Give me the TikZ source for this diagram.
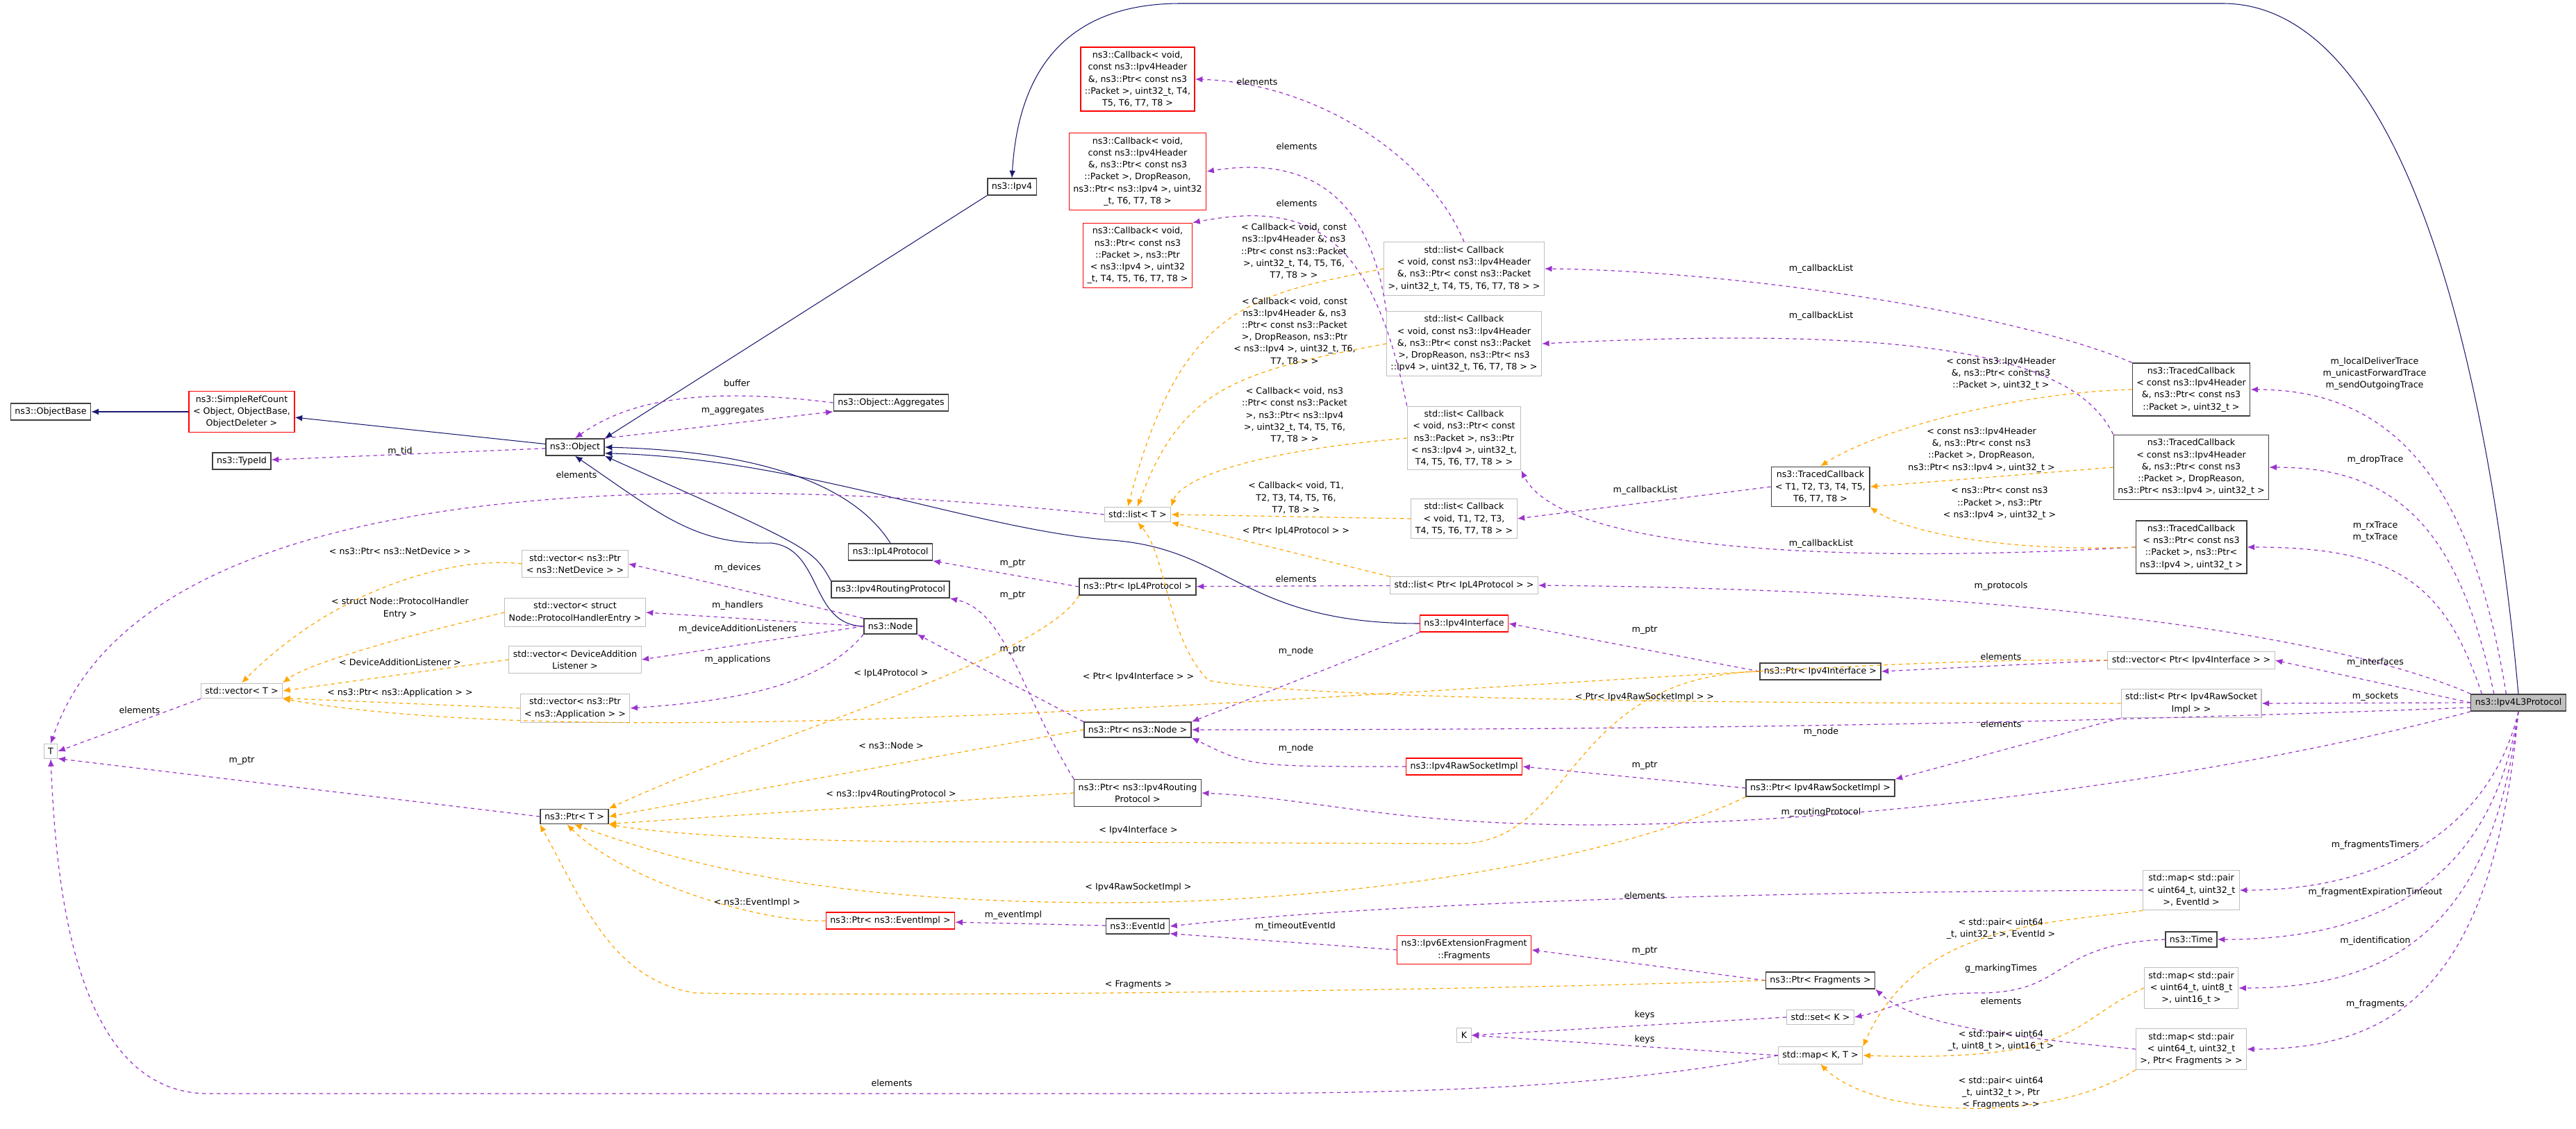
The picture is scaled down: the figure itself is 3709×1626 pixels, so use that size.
\documentclass[tikz,border=0pt]{standalone}
\usepackage{fontspec}
\setmainfont{DejaVu Sans}
\usetikzlibrary{arrows.meta}
\definecolor{inhcol}{HTML}{191970}
\definecolor{usecol}{HTML}{9A32CD}
\definecolor{tplcol}{HTML}{FFA500}
\begin{document}
\begin{tikzpicture}[x=0.02cm,y=0.02cm,
    every node/.style={font=\fontsize{7.2}{9.8}\selectfont},
    cls/.style={fill=white, align=center, inner sep=3.4pt, line width=0.8pt},
    docbox/.style={cls, draw=black!75},
    redbox/.style={cls, draw=red},
    extbox/.style={cls, draw=black!25, line width=0.6pt},
    inh/.style={draw=inhcol, line width=0.6pt, -{Latex[length=6pt,width=5pt]}},
    use/.style={draw=usecol, line width=0.7pt, dash pattern=on 3pt off 3pt, -{Latex[length=6pt,width=5pt]}},
    tpl/.style={draw=tplcol, line width=0.7pt, dash pattern=on 3pt off 3pt, -{Latex[length=6pt,width=5pt]}},
    lbl/.style={align=center, inner sep=0pt}]
  \useasboundingbox (0,0) rectangle (3709,-1626);

  % classes
  \node[docbox] (objbase) at (73,-593) {ns3::ObjectBase};
  \node[redbox] (refcount) at (348,-593) {ns3::SimpleRefCount\\< Object, ObjectBase,\\ObjectDeleter >};
  \node[docbox] (typeid) at (348,-664) {ns3::TypeId};
  \node[docbox] (object) at (828,-644) {ns3::Object};
  \node[docbox] (aggr) at (1283,-580) {ns3::Object::Aggregates};
  \node[docbox] (ipv4) at (1457,-269) {ns3::Ipv4};
  \node[redbox] (cbhdr) at (1638,-114) {ns3::Callback< void,\\const ns3::Ipv4Header\\\&, ns3::Ptr< const ns3\\::Packet >, uint32\_t, T4,\\T5, T6, T7, T8 >};
  \node[redbox] (cbdrop) at (1638,-247) {ns3::Callback< void,\\const ns3::Ipv4Header\\\&, ns3::Ptr< const ns3\\::Packet >, DropReason,\\ns3::Ptr< ns3::Ipv4 >, uint32\\\_t, T6, T7, T8 >};
  \node[redbox] (cbrx) at (1638,-368) {ns3::Callback< void,\\ns3::Ptr< const ns3\\::Packet >, ns3::Ptr\\< ns3::Ipv4 >, uint32\\\_t, T4, T5, T6, T7, T8 >};
  \node[extbox] (listT) at (1638,-741) {std::list< T >};
  \node[extbox] (lsthdr) at (2108,-387) {std::list< Callback\\< void, const ns3::Ipv4Header\\\&, ns3::Ptr< const ns3::Packet\\>, uint32\_t, T4, T5, T6, T7, T8 > >};
  \node[extbox] (lstdrop) at (2108,-495) {std::list< Callback\\< void, const ns3::Ipv4Header\\\&, ns3::Ptr< const ns3::Packet\\>, DropReason, ns3::Ptr< ns3\\::Ipv4 >, uint32\_t, T6, T7, T8 > >};
  \node[extbox] (lstrx) at (2108,-631) {std::list< Callback\\< void, ns3::Ptr< const\\ns3::Packet >, ns3::Ptr\\< ns3::Ipv4 >, uint32\_t,\\T4, T5, T6, T7, T8 > >};
  \node[extbox] (lstgen) at (2108,-747) {std::list< Callback\\< void, T1, T2, T3,\\T4, T5, T6, T7, T8 > >};
  \node[docbox] (trhdr) at (3155,-561) {ns3::TracedCallback\\< const ns3::Ipv4Header\\\&, ns3::Ptr< const ns3\\::Packet >, uint32\_t >};
  \node[docbox] (trdrop) at (3155,-673) {ns3::TracedCallback\\< const ns3::Ipv4Header\\\&, ns3::Ptr< const ns3\\::Packet >, DropReason,\\ns3::Ptr< ns3::Ipv4 >, uint32\_t >};
  \node[docbox] (trrx) at (3155,-788) {ns3::TracedCallback\\< ns3::Ptr< const ns3\\::Packet >, ns3::Ptr<\\ns3::Ipv4 >, uint32\_t >};
  \node[docbox] (trgen) at (2621,-701) {ns3::TracedCallback\\< T1, T2, T3, T4, T5,\\T6, T7, T8 >};
  \node[extbox] (T) at (73,-1082) {T};
  \node[extbox] (vecT) at (348,-995) {std::vector< T >};
  \node[extbox] (vecdev) at (828,-812) {std::vector< ns3::Ptr\\< ns3::NetDevice > >};
  \node[extbox] (vechnd) at (828,-882) {std::vector< struct\\Node::ProtocolHandlerEntry >};
  \node[extbox] (vecadd) at (828,-950) {std::vector< DeviceAddition\\Listener >};
  \node[extbox] (vecapp) at (828,-1020) {std::vector< ns3::Ptr\\< ns3::Application > >};
  \node[docbox] (ptrT) at (827,-1176) {ns3::Ptr< T >};
  \node[docbox] (ipl4) at (1282,-795) {ns3::IpL4Protocol};
  \node[docbox] (routing) at (1282,-849) {ns3::Ipv4RoutingProtocol};
  \node[docbox] (node) at (1282,-902) {ns3::Node};
  \node[docbox] (ptrl4) at (1638,-845) {ns3::Ptr< IpL4Protocol >};
  \node[extbox] (lstl4) at (2108,-843) {std::list< Ptr< IpL4Protocol > >};
  \node[redbox] (iface) at (2108,-898) {ns3::Ipv4Interface};
  \node[docbox] (ptriface) at (2621,-967) {ns3::Ptr< Ipv4Interface >};
  \node[docbox] (ptrnode) at (1638,-1051) {ns3::Ptr< ns3::Node >};
  \node[redbox] (raw) at (2108,-1104) {ns3::Ipv4RawSocketImpl};
  \node[docbox] (ptrraw) at (2621,-1135) {ns3::Ptr< Ipv4RawSocketImpl >};
  \node[docbox] (ptrrouting) at (1638,-1142) {ns3::Ptr< ns3::Ipv4Routing\\Protocol >};
  \node[redbox] (evimpl) at (1282,-1326) {ns3::Ptr< ns3::EventImpl >};
  \node[docbox] (eventid) at (1638,-1334) {ns3::EventId};
  \node[redbox] (frags) at (2108,-1368) {ns3::Ipv6ExtensionFragment\\::Fragments};
  \node[docbox] (ptrfrag) at (2621,-1412) {ns3::Ptr< Fragments >};
  \node[extbox] (K) at (2108,-1491) {K};
  \node[extbox] (setK) at (2621,-1465) {std::set< K >};
  \node[extbox] (mapKT) at (2621,-1520) {std::map< K, T >};
  \node[extbox] (veciface) at (3155,-951) {std::vector< Ptr< Ipv4Interface > >};
  \node[extbox] (lstraw) at (3155,-1013) {std::list< Ptr< Ipv4RawSocket\\Impl > >};
  \node[cls, draw=black!75, fill=black!25] (l3) at (3626,-1012) {ns3::Ipv4L3Protocol};
  \node[extbox] (timers) at (3155,-1282) {std::map< std::pair\\< uint64\_t, uint32\_t\\>, EventId >};
  \node[docbox] (time) at (3155,-1353) {ns3::Time};
  \node[extbox] (ident) at (3155,-1423) {std::map< std::pair\\< uint64\_t, uint8\_t\\>, uint16\_t >};
  \node[extbox] (mapfrag) at (3155,-1511) {std::map< std::pair\\< uint64\_t, uint32\_t\\>, Ptr< Fragments > >};

  % inheritance
  \draw[inh] (refcount) -- (objbase);
  \draw[inh] (object) -- (refcount);
  \draw[inh] (ipv4.south west) -- (object.north east);
  \draw[inh] (l3.north) .. controls (3590,-600) and (3480,-5) .. (3200,-5) -- (1700,-5) .. controls (1520,-5) and (1465,-120) .. (ipv4.north);
  \draw[inh] (ipl4.north) .. controls (1230,-700) and (1100,-650) .. (object.east);
  \draw[inh] (routing.north west) .. controls (1170,-790) .. (object.south east);
  \draw[inh] (node.west) .. controls (1165,-900) and (1185,-790) .. (1110,-782) .. controls (1000,-785) and (950,-740) .. (object.south);
  \draw[inh] (iface.west) .. controls (1790,-898) and (1770,-790) .. (1600,-778) .. controls (1400,-762) and (1150,-660) .. ([yshift=-5]object.east);

  % members
  \draw[use] (object) -- (typeid);
  \node[lbl] (ltid) at (576,-650) {m\_tid};
  \draw[use] (object.north east) -- (aggr.south west);
  \node[lbl] (laggr) at (1055,-592) {m\_aggregates};
  \draw[use] (aggr.west) .. controls (1000,-555) and (900,-580) .. (object.north);
  \node[lbl] (lbuf) at (1061,-552) {buffer};
  \draw[use] (listT.west) .. controls (900,-670) and (200,-700) .. (T.north);
  \node[lbl] (lelt) at (830,-684) {elements};
  \draw[use] (vecT.south west) -- (T.east);
  \node[lbl] (lelv) at (201,-1023) {elements};
  \draw[use] (ptrT.west) -- ([yshift=-6]T.east);
  \node[lbl] (lptrt) at (348,-1096) {m\_ptr};
  \draw[use] (mapKT.west) .. controls (2300,-1570) and (2000,-1575) .. (1700,-1575) -- (300,-1575) .. controls (100,-1575) and (80,-1250) .. (T.south);
  \node[lbl] (lelm) at (1284,-1560) {elements};
  \draw[use] (node.north west) -- (vecdev.east);
  \node[lbl] (ldev) at (1062,-818) {m\_devices};
  \draw[use] (node.west) -- (vechnd.east);
  \node[lbl] (lhnd) at (1062,-872) {m\_handlers};
  \draw[use] (node.west) -- (vecadd.east);
  \node[lbl] (ladd) at (1062,-906) {m\_deviceAdditionListeners};
  \draw[use] (node.south west) .. controls (1180,-990) and (1050,-1010) .. (vecapp.east);
  \node[lbl] (lapp) at (1062,-950) {m\_applications};
  \draw[use] (ptrl4.west) -- (ipl4.south east);
  \node[lbl] (lpl4) at (1458,-812) {m\_ptr};
  \draw[use] (ptrrouting.north west) .. controls (1470,-1000) and (1450,-880) .. (routing.south east);
  \node[lbl] (lprt) at (1458,-858) {m\_ptr};
  \draw[use] (ptrnode.north west) -- (node.south east);
  \node[lbl] (lpnd) at (1458,-936) {m\_ptr};
  \draw[use] (lstl4) -- (ptrl4);
  \node[lbl] (lell4) at (1866,-834) {elements};
  \draw[use] (iface.south west) -- (ptrnode.north east);
  \node[lbl] (lifnd) at (1866,-938) {m\_node};
  \draw[use] (raw.west) .. controls (1800,-1104) .. (ptrnode.south east);
  \node[lbl] (lrwnd) at (1866,-1078) {m\_node};
  \draw[use] (ptriface.west) -- (iface.east);
  \node[lbl] (lpif) at (2368,-908) {m\_ptr};
  \draw[use] (ptrraw.west) -- (raw.east);
  \node[lbl] (lprw) at (2368,-1103) {m\_ptr};
  \draw[use] (veciface.west) -- (ptriface.east);
  \node[lbl] (lelif) at (2881,-946) {elements};
  \draw[use] (lstraw.south west) -- (ptrraw.north east);
  \node[lbl] (lelrw) at (2881,-1043) {elements};
  \draw[use] (lsthdr.north) .. controls (2060,-230) and (1900,-120) .. (cbhdr.east);
  \node[lbl] (lelcb1) at (1810,-118) {elements};
  \draw[use] (lstdrop.north west) .. controls (1975,-300) and (1900,-221) .. (cbdrop.east);
  \node[lbl] (lelcb2) at (1867,-211) {elements};
  \draw[use] (lstrx.north west) .. controls (1975,-330) and (1880,-290) .. (cbrx.north east);
  \node[lbl] (lelcb3) at (1867,-293) {elements};
  \draw[use] (trhdr.north west) .. controls (2900,-450) and (2500,-390) .. (lsthdr.east);
  \node[lbl] (lcl1) at (2622,-387) {m\_callbackList};
  \draw[use] (trdrop.north west) .. controls (2990,-520) and (2800,-466) .. (lstdrop.east);
  \node[lbl] (lcl2) at (2622,-455) {m\_callbackList};
  \draw[use] (trrx.west) .. controls (2700,-810) and (2250,-800) .. (lstrx.south east);
  \node[lbl] (lcl3) at (2622,-783) {m\_callbackList};
  \draw[use] (trgen.west) -- (lstgen.east);
  \node[lbl] (lcl4) at (2369,-706) {m\_callbackList};
  \draw[use] ([xshift=-10]l3.north) .. controls (3560,-700) and (3450,-561) .. (trhdr.east);
  \node[lbl] (ltrhdr) at (3419,-538) {m\_localDeliverTrace\\m\_unicastForwardTrace\\m\_sendOutgoingTrace};
  \draw[use] ([xshift=-20]l3.north) .. controls (3540,-760) and (3450,-673) .. (trdrop.east);
  \node[lbl] (ltrdrop) at (3420,-662) {m\_dropTrace};
  \draw[use] ([xshift=-30]l3.north) .. controls (3520,-840) and (3450,-788) .. (trrx.east);
  \node[lbl] (ltrrx) at (3420,-766) {m\_rxTrace\\m\_txTrace};
  \draw[use] (l3.north west) .. controls (3400,-930) and (3000,-850) .. (lstl4.east);
  \node[lbl] (lprot) at (2881,-844) {m\_protocols};
  \draw[use] (l3.west) -- (veciface.east);
  \node[lbl] (lifs) at (3420,-954) {m\_interfaces};
  \draw[use] (l3.west) -- (lstraw.east);
  \node[lbl] (lsock) at (3420,-1003) {m\_sockets};
  \draw[use] ([yshift=-4]l3.west) .. controls (3000,-1040) and (2500,-1051) .. (ptrnode.east);
  \node[lbl] (lnode) at (2622,-1054) {m\_node};
  \draw[use] (l3.south west) .. controls (3200,-1120) and (2700,-1185) .. (2300,-1188) .. controls (2000,-1188) and (1900,-1150) .. (ptrrouting.east);
  \node[lbl] (lrout) at (2622,-1170) {m\_routingProtocol};
  \draw[use] (l3.south) .. controls (3590,-1180) and (3450,-1282) .. (timers.east);
  \node[lbl] (ltim) at (3420,-1217) {m\_fragmentsTimers};
  \draw[use] (l3.south) .. controls (3590,-1250) and (3450,-1353) .. (time.east);
  \node[lbl] (lexp) at (3420,-1285) {m\_fragmentExpirationTimeout};
  \draw[use] (l3.south) .. controls (3590,-1330) and (3450,-1423) .. (ident.east);
  \node[lbl] (lid) at (3420,-1355) {m\_identification};
  \draw[use] (l3.south) .. controls (3590,-1420) and (3450,-1511) .. (mapfrag.east);
  \node[lbl] (lfr) at (3420,-1446) {m\_fragments};
  \draw[use] (timers.west) .. controls (2500,-1285) and (2000,-1300) .. (eventid.east);
  \node[lbl] (lelev) at (2368,-1290) {elements};
  \draw[use] (eventid) -- (evimpl);
  \node[lbl] (levi) at (1459,-1318) {m\_eventImpl};
  \draw[use] (frags.west) -- ([yshift=-6]eventid.east);
  \node[lbl] (ltmo) at (1865,-1334) {m\_timeoutEventId};
  \draw[use] (ptrfrag.west) -- (frags.east);
  \node[lbl] (lpfr) at (2368,-1370) {m\_ptr};
  \draw[use] (time.west) .. controls (2950,-1360) and (2980,-1430) .. (2850,-1430) .. controls (2750,-1430) and (2720,-1455) .. (setK.east);
  \node[lbl] (lmark) at (2881,-1395) {g\_markingTimes};
  \draw[use] (mapfrag.west) .. controls (2850,-1490) and (2750,-1470) .. (ptrfrag.south east);
  \node[lbl] (lelfr) at (2881,-1442) {elements};
  \draw[use] (setK.west) -- (K.east);
  \node[lbl] (lk1) at (2368,-1462) {keys};
  \draw[use] (mapKT.west) -- (K.east);
  \node[lbl] (lk2) at (2368,-1497) {keys};

  % template instances
  \draw[tpl] (vecdev.west) .. controls (650,-800) and (480,-850) .. (vecT.north);
  \node[lbl] (tdev) at (576,-794) {< ns3::Ptr< ns3::NetDevice > >};
  \draw[tpl] (vechnd.west) .. controls (650,-900) and (450,-950) .. (vecT.north east);
  \node[lbl] (thnd) at (576,-876) {< struct Node::ProtocolHandler\\Entry >};
  \draw[tpl] (vecadd.west) -- (vecT.east);
  \node[lbl] (tadd) at (576,-954) {< DeviceAdditionListener >};
  \draw[tpl] (vecapp.west) -- ([yshift=-6]vecT.east);
  \node[lbl] (tapp) at (576,-998) {< ns3::Ptr< ns3::Application > >};
  \draw[tpl] (veciface.west) .. controls (2500,-940) and (1000,-1110) .. (vecT.south east);
  \node[lbl] (tvif) at (1639,-975) {< Ptr< Ipv4Interface > >};
  \draw[tpl] (ptrl4.south west) .. controls (1500,-950) and (1100,-1060) .. (ptrT.north east);
  \node[lbl] (tl4) at (1283,-970) {< IpL4Protocol >};
  \draw[tpl] (ptrnode.west) -- (ptrT.east);
  \node[lbl] (tnd) at (1283,-1074) {< ns3::Node >};
  \draw[tpl] (ptrrouting.west) -- ([yshift=-6]ptrT.east);
  \node[lbl] (trt) at (1283,-1144) {< ns3::Ipv4RoutingProtocol >};
  \draw[tpl] (ptriface.west) .. controls (2250,-975) and (2270,-1215) .. (2100,-1215) -- (1300,-1212) .. controls (1100,-1210) and (950,-1200) .. (ptrT.south east);
  \node[lbl] (tif) at (1639,-1196) {< Ipv4Interface >};
  \draw[tpl] (ptrraw.south west) .. controls (2300,-1250) and (1900,-1300) .. (1600,-1300) .. controls (1200,-1300) and (1000,-1250) .. (ptrT.south);
  \node[lbl] (trw) at (1639,-1278) {< Ipv4RawSocketImpl >};
  \draw[tpl] (evimpl.west) .. controls (1100,-1330) and (900,-1270) .. ([xshift=-6]ptrT.south);
  \node[lbl] (tev) at (1090,-1300) {< ns3::EventImpl >};
  \draw[tpl] (ptrfrag.west) .. controls (2000,-1430) and (1200,-1435) .. (1000,-1430) .. controls (880,-1410) and (840,-1300) .. (ptrT.south west);
  \node[lbl] (tfr) at (1639,-1418) {< Fragments >};
  \draw[tpl] (lsthdr.west) .. controls (1800,-425) and (1700,-440) .. ([xshift=-8]listT.north);
  \node[lbl] (tlh) at (1863,-362) {< Callback< void, const\\ns3::Ipv4Header \&, ns3\\::Ptr< const ns3::Packet\\>, uint32\_t, T4, T5, T6,\\T7, T8 > >};
  \draw[tpl] (lstdrop.west) .. controls (1780,-535) and (1700,-560) .. (listT.north);
  \node[lbl] (tld) at (1864,-477) {< Callback< void, const\\ns3::Ipv4Header \&, ns3\\::Ptr< const ns3::Packet\\>, DropReason, ns3::Ptr\\< ns3::Ipv4 >, uint32\_t, T6,\\T7, T8 > >};
  \draw[tpl] (lstrx.west) .. controls (1800,-650) and (1700,-690) .. (listT.north east);
  \node[lbl] (tlr) at (1864,-598) {< Callback< void, ns3\\::Ptr< const ns3::Packet\\>, ns3::Ptr< ns3::Ipv4\\>, uint32\_t, T4, T5, T6,\\T7, T8 > >};
  \draw[tpl] (lstgen.west) -- (listT.east);
  \node[lbl] (tlg) at (1866,-717) {< Callback< void, T1,\\T2, T3, T4, T5, T6,\\T7, T8 > >};
  \draw[tpl] (lstl4.north west) -- (listT.south east);
  \node[lbl] (tl4l) at (1866,-765) {< Ptr< IpL4Protocol > >};
  \draw[tpl] (lstraw.west) .. controls (2600,-1013) and (1900,-1010) .. (1740,-980) .. controls (1680,-920) and (1680,-800) .. (listT.south);
  \node[lbl] (tlrw) at (2368,-1004) {< Ptr< Ipv4RawSocketImpl > >};
  \draw[tpl] (trhdr.west) .. controls (2900,-565) and (2700,-620) .. (trgen.north);
  \node[lbl] (tth) at (2881,-538) {< const ns3::Ipv4Header\\\&, ns3::Ptr< const ns3\\::Packet >, uint32\_t >};
  \draw[tpl] (trdrop.west) -- (trgen.east);
  \node[lbl] (ttd) at (2853,-648) {< const ns3::Ipv4Header\\\&, ns3::Ptr< const ns3\\::Packet >, DropReason,\\ns3::Ptr< ns3::Ipv4 >, uint32\_t >};
  \draw[tpl] (trrx.west) .. controls (2900,-795) and (2750,-770) .. (trgen.south east);
  \node[lbl] (ttr) at (2879,-725) {< ns3::Ptr< const ns3\\::Packet >, ns3::Ptr\\< ns3::Ipv4 >, uint32\_t >};
  \draw[tpl] (timers.south west) .. controls (2950,-1330) and (2760,-1330) .. (mapKT.north east);
  \node[lbl] (tmt) at (2881,-1338) {< std::pair< uint64\\\_t, uint32\_t >, EventId >};
  \draw[tpl] (ident.west) .. controls (2980,-1470) and (3000,-1530) .. (mapKT.east);
  \node[lbl] (tmi) at (2881,-1499) {< std::pair< uint64\\\_t, uint8\_t >, uint16\_t >};
  \draw[tpl] (mapfrag.south west) .. controls (2950,-1620) and (2700,-1610) .. (mapKT.south);
  \node[lbl] (tmf) at (2881,-1574) {< std::pair< uint64\\\_t, uint32\_t >, Ptr\\< Fragments > >};
\end{tikzpicture}
\end{document}
